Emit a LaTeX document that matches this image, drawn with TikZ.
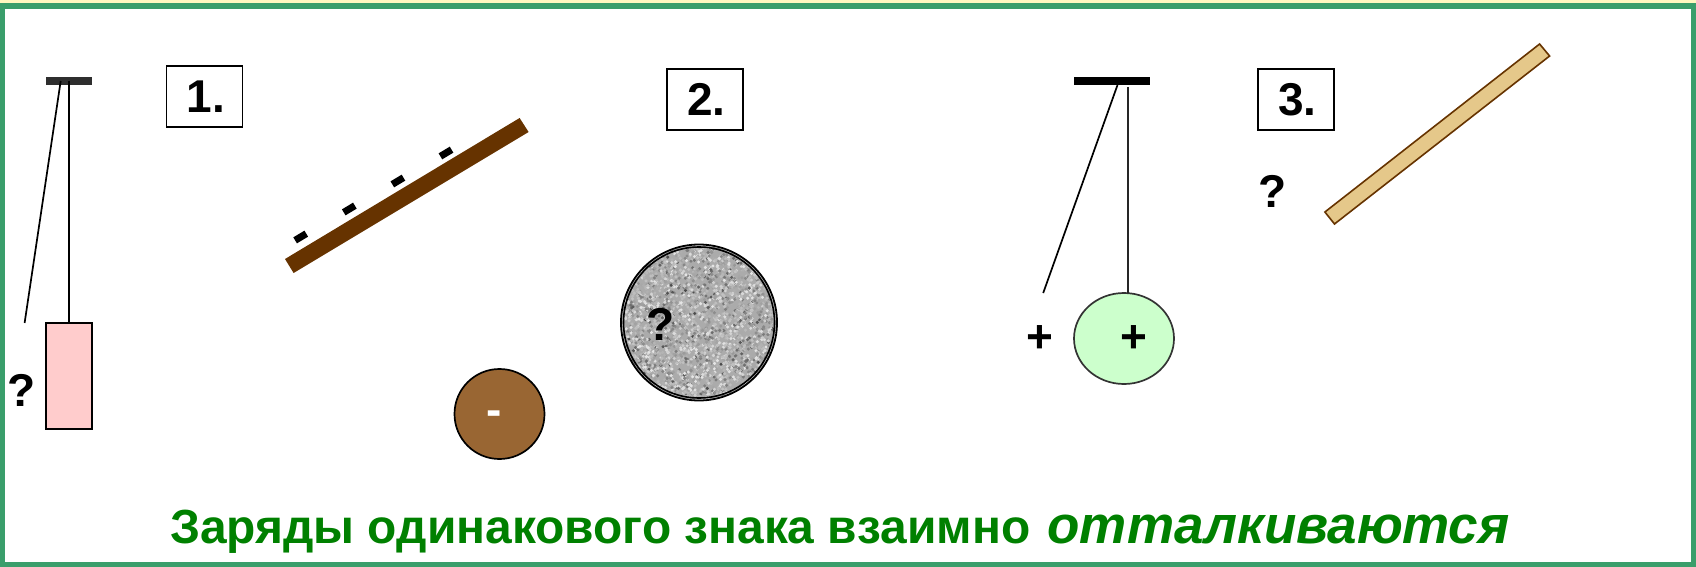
\documentclass[tikz,border=0pt]{standalone}
\usepackage{fontspec}
\usetikzlibrary{shapes.geometric}
\setmainfont{Liberation Sans}
\definecolor{framegreen}{HTML}{3A9E6B}
\definecolor{creamtop}{HTML}{FFF8C0}
\definecolor{rodbrown}{HTML}{663300}
\definecolor{ballbrown}{HTML}{996633}
\definecolor{pinkfill}{HTML}{FFCCCC}
\definecolor{mintfill}{HTML}{CCFFCC}
\definecolor{woodfill}{HTML}{E5C88A}
\definecolor{msgreen}{HTML}{008000}
\newcommand{\lblfont}{\fontsize{46}{50}\selectfont\bfseries}
\tikzset{
  numbox/.style={draw=black,line width=1.7pt,fill=white,inner sep=0pt,minimum width=76pt,minimum height=61pt,font=\lblfont,text height=33pt,text depth=0pt},
  signlabel/.style={inner sep=0pt,font=\lblfont},
  thread/.style={draw=black,line width=1.7pt},
  minusmark/.style={fill=black,minimum width=13pt,minimum height=7pt,inner sep=0pt,rotate=31},
}
\begin{document}
\begin{tikzpicture}[x=1pt,y=-1pt]
\useasboundingbox (0,0) rectangle (1696,567);
% frame
\fill[creamtop] (0,0) rectangle (1696,3);
\draw[framegreen,line width=5.5pt] (2.2,5.8) rectangle (1693.5,564.5);
% pendulum 1
\node[fill=black!82,minimum width=46pt,minimum height=8pt,inner sep=0pt] (barA) at (68.7,81) {};
\node[draw=black,line width=1.7pt,fill=pinkfill,minimum width=46pt,minimum height=106pt,inner sep=0pt] (bodyA) at (68.7,376) {};
\coordinate (freeA) at (24.6,323);
\coordinate (topA) at (60.7,81);
\draw[thread] (topA) -- (freeA);
\draw[thread] (barA.center) -- (bodyA.north);
\node[signlabel] (qA) at (21.4,390) {?};
\node[numbox] (box1) at (204.6,96.5) {\hspace{3pt}1.};
% brown rod with charges
\fill[rodbrown] (285,259) -- (519.6,118) -- (528.6,132) -- (293.6,273) -- cycle;
\node[minusmark] (m1) at (300.7,237) {};
\node[minusmark] (m2) at (349.3,209) {};
\node[minusmark] (m3) at (397.9,181) {};
\node[minusmark] (m4) at (446,153) {};
% brown ball
\node[circle,draw=black,line width=1.7pt,fill=ballbrown,minimum size=90pt,inner sep=0pt] (ballB) at (499.5,414) {};
\node[signlabel,text=white] (mB) at (494,418) {-};
% box 2
\node[numbox] (box2) at (705,99.5) {\hspace{3pt}2.};
% gray textured ball
\begin{scope}
\clip (699,322.5) circle (77pt);
\fill[black!33] (699,322.5) circle (77pt);
\pgfmathsetseed{4242}
\foreach \i in {1,...,3500}{
  \pgfmathsetmacro{\px}{620+158*rnd}
  \pgfmathsetmacro{\py}{244+157*rnd}
  \pgfmathsetmacro{\sh}{24+50*rnd*rnd+(rnd>0.6?-14:0)}
  \fill[black!\sh] (\px,\py) circle (1.7pt);
}
\end{scope}
\draw[black,line width=1.6pt] (699,322.5) circle (75.5pt);
\draw[black,line width=1.8pt] (699,322.5) circle (78pt);
\node[signlabel] (qG) at (661,324) {?};
% pendulum 2
\node[fill=black,minimum width=76pt,minimum height=8pt,inner sep=0pt] (barC) at (1111.5,81) {};
\node[ellipse,draw=black!80,line width=1.7pt,fill=mintfill,minimum width=100pt,minimum height=91pt,inner sep=0pt] (ballC) at (1124,338.5) {};
\coordinate (freeC) at (1043.2,293);
\coordinate (topL) at (1117.5,85);
\draw[thread] (topL) -- (freeC);
\coordinate (topC) at (1128.2,87);
\coordinate (botC) at (1128.2,293);
\draw[draw=black!85,line width=1.6pt] (topC) -- (botC);
\node[signlabel] (pC) at (1133.6,339) {+};
\node[signlabel] (pO) at (1039.8,339) {+};
% box 3
\node[numbox] (box3) at (1296,99.5) {\hspace{3pt}3.};
\node[signlabel] (qC) at (1272.9,191) {?};
% wood rod
\draw[draw=rodbrown,line width=1.6pt,fill=woodfill] (1539.6,44) -- (1549.6,56) -- (1334.5,224) -- (1324.9,212) -- cycle;
% caption
\node[anchor=base west,inner sep=0pt,text=msgreen,font=\fontsize{47.9}{54}\selectfont\bfseries] (cap) at (170,543) {Заряды одинакового знака взаимно\hspace{4pt} \fontsize{53}{60}\selectfont\itshape отталкиваются};
\end{tikzpicture}
\end{document}
